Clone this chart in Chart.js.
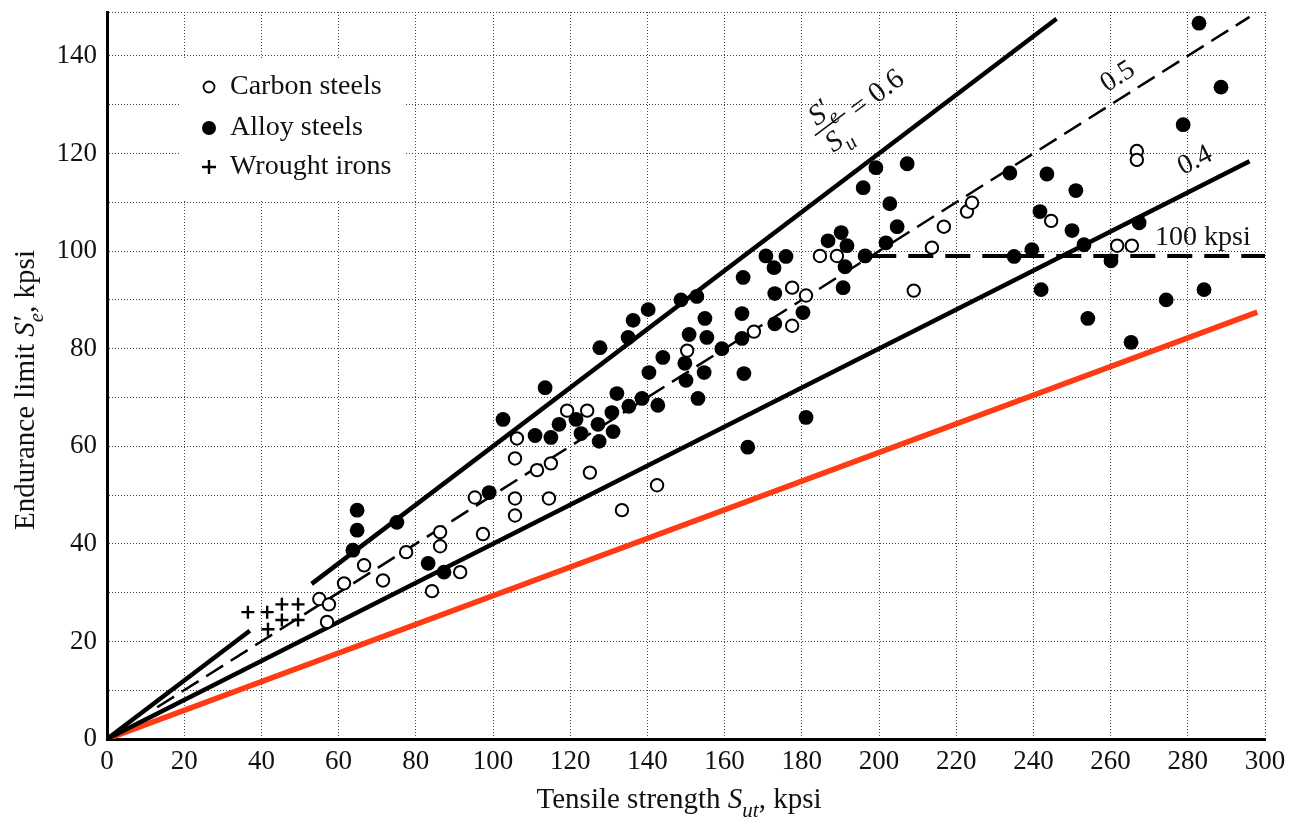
<!DOCTYPE html>
<html>
<head>
<meta charset="utf-8">
<script src="https://cdn.jsdelivr.net/npm/chart.js@4.4.0/dist/chart.umd.min.js"></script>
<style>
  html, body { margin: 0; padding: 0; background: #fff; }
  #wrap { width: 1289px; height: 817px; }
</style>
</head>
<body>
<div id="wrap"><canvas id="chart" width="1289" height="817"></canvas></div>
<script>
// --- data (kpsi) ---
const carbonX = [55, 57, 57.5, 61.4, 66.6, 71.5, 77.5, 84.2, 86.3, 86.3, 91.5, 95.3, 97.4, 105.7, 105.7, 105.7, 106.2, 111.4, 114.5, 115, 119.2, 124.4, 125.1, 133.4, 142.5, 150.3, 167.6, 177.5, 177.5, 181.1, 184.7, 189.1, 209, 213.7, 216.8, 222.8, 224.1, 244.6, 261.7, 265.5, 266.8, 266.8];
const carbonY = [28.7, 24, 27.6, 31.9, 35.6, 32.5, 38.3, 30.3, 42.4, 39.5, 34.2, 49.5, 42, 57.5, 49.3, 45.8, 61.6, 55.1, 49.3, 56.5, 67.3, 67.3, 54.6, 46.9, 52, 79.6, 83.5, 92.5, 84.7, 90.9, 99, 99, 91.9, 100.7, 105, 108.1, 109.9, 106.2, 101.1, 101.1, 120.5, 118.7];

const alloyX = [63.7, 64.8, 64.8, 75.1, 83.2, 87.3, 99, 102.6, 110.9, 113.5, 115, 117.1, 121.5, 122.8, 127.2, 127.5, 127.7, 130.8, 131.1, 132.1, 135, 135.2, 136.3, 138.6, 140.2, 140.4, 142.7, 144, 148.7, 149.7, 150, 150.8, 152.8, 153.1, 154.7, 154.9, 155.4, 159.3, 164.5, 164.5, 164.8, 165, 166, 170.7, 172.8, 173, 173, 175.9, 180.3, 181.1, 186.8, 190.2, 190.7, 191.2, 191.7, 195.9, 196.4, 199.2, 201.8, 202.8, 204.7, 207.3, 233.9, 235, 239.6, 241.7, 242, 243.5, 250, 251, 253.1, 254.1, 260.1, 265.3, 267.4, 274.4, 278.8, 282.9, 284.2, 288.6];
const alloyY = [38.7, 46.9, 42.8, 44.4, 36, 34.2, 50.5, 65.5, 62.2, 72, 61.8, 64.5, 65.5, 62.6, 64.5, 61, 80.2, 66.9, 63, 70.8, 82.3, 68.2, 85.8, 69.8, 88, 75.1, 68.4, 78.2, 90, 77, 73.5, 82.9, 90.7, 69.8, 75.1, 86.2, 82.3, 80, 87.2, 82.1, 94.6, 74.9, 59.8, 99, 96.6, 91.3, 85.1, 98.9, 87.4, 65.9, 102.1, 103.8, 92.5, 96.8, 101.1, 113, 99, 117.1, 101.7, 109.7, 105, 117.9, 116, 98.9, 100.3, 108.1, 92.1, 115.8, 104.2, 112.4, 101.3, 86.2, 98, 81.3, 105.8, 90, 125.9, 146.7, 92.1, 133.6];

const wroughtX = [36.5, 41.5, 45.3, 49.5, 41.7, 45.3, 49.5];
const wroughtY = [26, 26, 27.6, 27.6, 22.5, 24.4, 24.4];

// reference lines S'e/Sut
const ratio06LowX = [0, 37];    const ratio06LowY = [0, 22.2];
const ratio06X = [53, 246];     const ratio06Y = [31.8, 147.6];
const ratio05X = [13, 296];     const ratio05Y = [6.5, 148];
const limitX = [198, 300];      const limitY = [99, 99];
const ratio04X = [0, 296];      const ratio04Y = [0, 118.4];
const redX = [0, 298];          const redY = [0, 87.5];

const xTickLabels = [0, 20, 40, 60, 80, 100, 120, 140, 160, 180, 200, 220, 240, 260, 280, 300];
const yTickLabels = [0, 20, 40, 60, 80, 100, 120, 140];
const yMax = 149;

const FONT = '"Liberation Serif", "DejaVu Serif", serif';
const INK = '#111';

function pts(xs, ys) {
    return xs.map((x, i) => ({ x: x, y: ys[i] }));
}

// draws a run of text pieces: [text, style] style: n normal, i italic, is italic subscript, p prime (no advance)
function richText(ctx, parts, x, y, size, align) {
    const items = parts.map(p => {
        const st = p[1];
        const sub = st === 'is';
        const f = (st === 'i' || st === 'is' ? 'italic ' : '') + Math.round(sub ? size * 0.74 : size) + 'px ' + FONT;
        ctx.font = f;
        const w = st === 'p' ? 0 : ctx.measureText(p[0]).width;
        return { t: p[0], f: f, w: w, st: st };
    });
    const total = items.reduce((a, b) => a + b.w, 0);
    let cx = align === 'left' ? x : x - total / 2;
    ctx.textAlign = 'left';
    ctx.textBaseline = 'alphabetic';
    items.forEach(it => {
        ctx.font = it.f;
        let dy = 0;
        if (it.st === 'is') dy = size * 0.3;
        if (it.st === 'p') dy = -size * 0.05;
        ctx.fillText(it.t, cx + (it.st === 'p' ? 1 : 0), y + dy);
        cx += it.w;
    });
}

const decorPlugin = {
    id: 'decor',
    beforeDatasetsDraw(chart) {
        // legend box (white patch over the grid)
        const ctx = chart.ctx;
        ctx.save();
        ctx.fillStyle = '#fff';
        ctx.fillRect(181, 59, 225, 141);
        const rows = [
            { label: 'Carbon steels', y: 87, kind: 'open' },
            { label: 'Alloy steels', y: 128, kind: 'fill' },
            { label: 'Wrought irons', y: 167, kind: 'cross' }
        ];
        rows.forEach(r => {
            ctx.strokeStyle = '#000';
            ctx.fillStyle = '#000';
            if (r.kind === 'open') {
                ctx.beginPath(); ctx.arc(209, r.y, 5.5, 0, Math.PI * 2);
                ctx.lineWidth = 1.8; ctx.stroke();
            } else if (r.kind === 'fill') {
                ctx.beginPath(); ctx.arc(209, r.y, 7, 0, Math.PI * 2); ctx.fill();
            } else {
                ctx.lineWidth = 2.4;
                ctx.beginPath();
                ctx.moveTo(202, r.y); ctx.lineTo(216, r.y);
                ctx.moveTo(209, r.y - 7); ctx.lineTo(209, r.y + 7);
                ctx.stroke();
            }
            ctx.fillStyle = INK;
            ctx.font = '28px ' + FONT;
            ctx.textAlign = 'left';
            ctx.textBaseline = 'middle';
            ctx.fillText(r.label, 230, r.y);
        });
        ctx.restore();
    },
    afterDatasetsDraw(chart) {
        const ctx = chart.ctx;
        const sx = chart.scales.x, sy = chart.scales.y;
        ctx.save();
        ctx.fillStyle = INK;
        ctx.strokeStyle = INK;

        // S'e / Su = 0.6 along the 0.6 line
        ctx.save();
        ctx.translate(sx.getPixelForValue(187.3), sy.getPixelForValue(126.0));
        ctx.rotate(-37 * Math.PI / 180);
        richText(ctx, [['S', 'i'], ['\u2032', 'p'], ['e', 'is']], 0, -6, 29);
        ctx.lineWidth = 1.5;
        ctx.beginPath(); ctx.moveTo(-19, 0); ctx.lineTo(19, 0); ctx.stroke();
        richText(ctx, [['S', 'i'], ['u', 'is']], -2, 25, 29);
        ctx.font = '29px ' + FONT;
        ctx.textAlign = 'left';
        ctx.textBaseline = 'alphabetic';
        ctx.fillText('= 0.6', 26, 12);
        ctx.restore();

        const rotLabel = (txt, x, y, deg) => {
            ctx.save();
            ctx.translate(sx.getPixelForValue(x), sy.getPixelForValue(y));
            ctx.rotate(-deg * Math.PI / 180);
            ctx.font = '28px ' + FONT;
            ctx.textAlign = 'center';
            ctx.textBaseline = 'middle';
            ctx.fillText(txt, 0, 0);
            ctx.restore();
        };
        rotLabel('0.5', 261.9, 135.7, 32);
        rotLabel('0.4', 281.9, 118.5, 27);

        ctx.font = '28px ' + FONT;
        ctx.textAlign = 'left';
        ctx.textBaseline = 'alphabetic';
        ctx.fillText('100 kpsi', sx.getPixelForValue(271.5), sy.getPixelForValue(101.2));
        ctx.restore();
    },
    afterDraw(chart) {
        const ctx = chart.ctx;
        ctx.save();
        ctx.fillStyle = INK;
        // x axis title
        richText(ctx, [['Tensile strength ', 'n'], ['S', 'i'], ['ut', 'is'], [', kpsi', 'n']], 679, 808, 29);
        // y axis title
        ctx.translate(34, 390);
        ctx.rotate(-Math.PI / 2);
        richText(ctx, [['Endurance limit ', 'n'], ['S', 'i'], ['\u2032', 'p'], ['e', 'is'], [', kpsi', 'n']], 0, 0, 29);
        ctx.restore();
    }
};

const solid = (xs, ys, color, w) => ({
    data: pts(xs, ys), showLine: true, borderColor: color, borderWidth: w,
    pointRadius: 0, fill: false, order: 2, borderCapStyle: 'butt'
});

new Chart(document.getElementById('chart'), {
    type: 'scatter',
    data: {
        datasets: [
            {
                label: 'Carbon steels', data: pts(carbonX, carbonY), order: 0,
                pointStyle: 'circle', pointRadius: 6.2, pointBackgroundColor: '#fff',
                pointBorderColor: '#000', pointBorderWidth: 2
            },
            {
                label: 'Alloy steels', data: pts(alloyX, alloyY), order: 1,
                pointStyle: 'circle', pointRadius: 7.4, pointBackgroundColor: '#000',
                pointBorderColor: '#000', pointBorderWidth: 0
            },
            {
                label: 'Wrought irons', data: pts(wroughtX, wroughtY), order: 0,
                pointStyle: 'cross', pointRadius: 6.5, pointBorderColor: '#000', pointBorderWidth: 2.4
            },
            solid(ratio06LowX, ratio06LowY, '#000', 4.5),
            solid(ratio06X, ratio06Y, '#000', 4.5),
            Object.assign(solid(ratio05X, ratio05Y, '#000', 2.5), { borderDash: [20, 9] }),
            Object.assign(solid(limitX, limitY, '#000', 4), { borderDash: [25, 12] }),
            solid(ratio04X, ratio04Y, '#000', 4.5),
            solid(redX, redY, '#ff3b14', 5.5)
        ]
    },
    options: {
        responsive: false,
        animation: false,
        devicePixelRatio: 1,
        events: [],
        layout: { padding: { left: 0, top: 12, right: 24, bottom: 0 } },
        plugins: { legend: { display: false }, tooltip: { enabled: false } },
        scales: {
            x: {
                type: 'linear', min: 0, max: 300,
                afterFit: s => { s.height = 78; s.paddingLeft = 0; s.paddingRight = 0; },
                afterBuildTicks: s => { s.ticks = xTickLabels.map(v => ({ value: v })); },
                grid: { color: '#444', lineWidth: 1, drawTicks: false },
                border: { display: true, color: '#000', width: 3, dash: [1, 2] },
                ticks: {
                    autoSkip: false, maxRotation: 0, padding: 7, color: INK,
                    font: { family: FONT, size: 27 }
                }
            },
            y: {
                type: 'linear', min: 0, max: yMax,
                afterFit: s => { s.width = 107; s.paddingTop = 0; s.paddingBottom = 0; },
                afterBuildTicks: s => {
                    const t = [];
                    for (let v = 0; v < yMax; v += 10) t.push({ value: v });
                    t.push({ value: yMax });
                    s.ticks = t;
                },
                grid: { color: '#444', lineWidth: 1, drawTicks: false },
                border: { display: true, color: '#000', width: 3, dash: [1, 2] },
                ticks: {
                    autoSkip: false, padding: 10, color: INK,
                    font: { family: FONT, size: 27 },
                    callback: v => yTickLabels.includes(v) ? String(v) : ''
                }
            }
        }
    },
    plugins: [decorPlugin]
});
</script>
</body>
</html>
